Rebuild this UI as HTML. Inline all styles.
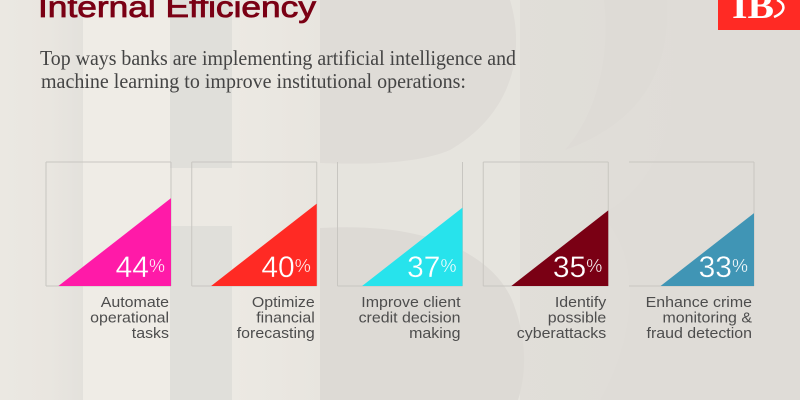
<!DOCTYPE html>
<html lang="en">
<head>
<meta charset="utf-8">
<title>Internal Efficiency</title>
<style>
html,body{margin:0;padding:0;background:#e4e2dc;}
svg{display:block;}
.sans{font-family:"Liberation Sans",sans-serif;}
.serif{font-family:"Liberation Serif",serif;}
</style>
</head>
<body>
<svg id="chart" xmlns="http://www.w3.org/2000/svg" width="800" height="400" viewBox="0 0 800 400">
  <defs>
    <linearGradient id="bgGrad" x1="0" x2="1" y1="0" y2="0">
      <stop offset="0" stop-color="#e6e4de"/>
      <stop offset="1" stop-color="#dedbd6"/>
    </linearGradient>
    <linearGradient id="leftGrad" x1="0" x2="1" y1="0" y2="0">
      <stop offset="0" stop-color="#ebe8e2"/>
      <stop offset="0.6" stop-color="#e9e6e0"/>
      <stop offset="1" stop-color="#e3e1dc"/>
    </linearGradient>
    <linearGradient id="stemGrad" x1="0" x2="1" y1="0" y2="0">
      <stop offset="0" stop-color="#ece9e3"/>
      <stop offset="1" stop-color="#e8e5df"/>
    </linearGradient>
  </defs>
  <g>
    <rect width="800" height="400" fill="url(#bgGrad)"/>
    <rect x="0" y="0" width="83" height="400" fill="url(#leftGrad)"/>
    <rect x="83" y="0" width="87" height="400" fill="#efece6"/>
    <rect x="170" y="0" width="62" height="400" fill="#e0dfda"/>
    <rect x="170" y="168" width="62" height="58" fill="#ece9e3"/>
    <rect x="232" y="0" width="88" height="400" fill="url(#stemGrad)"/>
    <rect x="320" y="0" width="200" height="400" fill="#e6e4de"/>
    <path d="M320,0 L510,0 C525,50 515,112 450,150 C420,163 370,165 320,163 Z" fill="#dfdcd7"/>
    <path d="M320,228 C420,222 490,250 512,300 C528,340 526,375 518,400 L320,400 Z" fill="#dddad5"/>
    <path d="M604,0 C610,50 600,110 565,150 C620,130 672,90 667,0 Z" fill="#dedbd6"/>
    <path d="M667,0 L800,0 L800,400 L600,400 C640,330 640,250 600,215 C650,190 690,130 667,0 Z" fill="#dfdcd7"/>
  </g>
  <text class="sans" x="38" y="17" font-size="30" fill="#7a0014" stroke="#7a0014" stroke-width="0.8" textLength="278" lengthAdjust="spacingAndGlyphs">Internal Efficiency</text>
  <g class="serif" font-size="21" fill="#444444">
    <text x="40" y="65" textLength="476" lengthAdjust="spacingAndGlyphs">Top ways banks are implementing artificial intelligence and</text>
    <text x="41" y="88" textLength="425" lengthAdjust="spacingAndGlyphs">machine learning to improve institutional operations:</text>
  </g>
  <g>
    <rect x="718" y="0" width="82" height="30" fill="#ff2a24"/>
    <text class="serif" x="732" y="18" font-size="36" font-weight="bold" fill="#ffffff" textLength="42" lengthAdjust="spacingAndGlyphs">IB</text>
    <path d="M777,0 C786,4 786,12 774,17" fill="none" stroke="#ffffff" stroke-width="2.5"/>
  </g>
  <g id="marks"></g>
</svg>
<script>
const categories = ["Automate operational tasks", "Optimize financial forecasting", "Improve client credit decision making", "Identify possible cyberattacks", "Enhance crime monitoring & fraud detection"];
const labelLines = [["Automate", "operational", "tasks"], ["Optimize", "financial", "forecasting"], ["Improve client", "credit decision", "making"], ["Identify", "possible", "cyberattacks"], ["Enhance crime", "monitoring &", "fraud detection"]];
const values = [44, 40, 37, 35, 33];
const colors = ["#ff1aa8", "#ff2a24", "#27e3ec", "#7a0014", "#4095b5"];

const svgNS = "http://www.w3.org/2000/svg";
const marks = document.getElementById("marks");
const baseY = 286;
const boxH = 124;
const boxW = 125;
function xBox(i) { return 46 + i * 145.75; }
function triH(v) { return 28 + 1.36 * v; }
function triW(v) { return triH(v) / 0.78; }

function node(tag, attrs) {
  const el = document.createElementNS(svgNS, tag);
  for (const k in attrs) el.setAttribute(k, attrs[k]);
  return el;
}

values.forEach(function (v, i) {
  const x0 = xBox(i);
  const x1 = x0 + boxW;
  const y0 = baseY - boxH;
  const g = node("g", {});
  
  

  const edges = [];
  if (i !== 2) edges.push([x0, y0, x1, y0]);
  if (i !== 4) edges.push([x0, y0, x0, baseY]);
  edges.push([x1, y0, x1, baseY]);
  edges.push([x0, baseY, x1, baseY]);
  edges.forEach(function (e) {
    const line = node("line", { x1: e[0], y1: e[1], x2: e[2], y2: e[3], stroke: "#c8c6c1", "stroke-width": 1 });
    
    
    g.appendChild(line);
  });

  const tri = node("polygon", {
    points: (x1 - triW(v)) + "," + baseY + " " + x1 + "," + baseY + " " + x1 + "," + (baseY - triH(v)),
    fill: colors[i]
  });
  
  
  g.appendChild(tri);

  const val = node("text", {
    x: x1 - 6, y: 277,
    "text-anchor": "end", fill: "#ffffff", class: "sans",
    stroke: colors[i], "stroke-width": 0.3
  });
  
  
  const num = node("tspan", { "font-size": 30 });
  num.textContent = String(v);
  const pct = node("tspan", { "font-size": 18, dy: -5 });
  pct.textContent = "%";
  val.appendChild(num);
  val.appendChild(pct);
  g.appendChild(val);

  labelLines[i].forEach(function (line, j) {
    const t = node("text", {
      transform: "translate(" + (x1 - 2) + "," + (307 + j * 15.6) + ") scale(1.1,1)",
      "text-anchor": "end", "font-size": 14.5, fill: "#4d4d4d", class: "sans"
    });
    
    
    t.textContent = line;
    g.appendChild(t);
  });
  marks.appendChild(g);
});
</script>
</body>
</html>
